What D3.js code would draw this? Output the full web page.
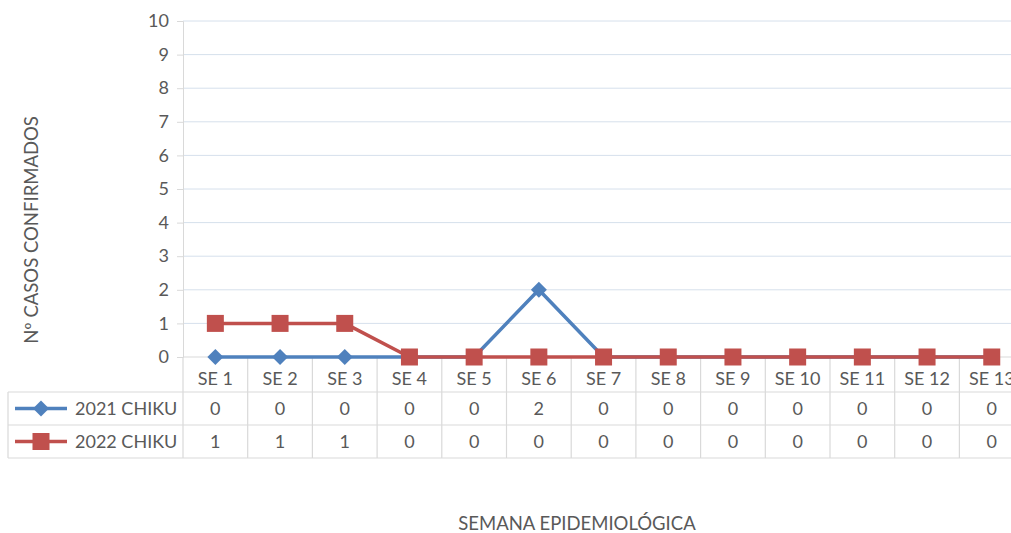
<!DOCTYPE html>
<html>
<head>
<meta charset="utf-8">
<script src="https://cdn.jsdelivr.net/npm/d3@7"></script>
<style>
  body { margin: 0; background: #fff; }
  svg text { font-family: Lato, "Open Sans", sans-serif; fill: #595959; }
</style>
</head>
<body>
<div id="chart"></div>
<script>
// data
const weeks = ["SE 1", "SE 2", "SE 3", "SE 4", "SE 5", "SE 6", "SE 7", "SE 8", "SE 9", "SE 10", "SE 11", "SE 12", "SE 13"];
const chiku2021 = [0, 0, 0, 0, 0, 2, 0, 0, 0, 0, 0, 0, 0];
const chiku2022 = [1, 1, 1, 0, 0, 0, 0, 0, 0, 0, 0, 0, 0];
const yTicks = [0, 1, 2, 3, 4, 5, 6, 7, 8, 9, 10];

const series = [
  { name: "2021 CHIKU", values: chiku2021, color: "#4F81BD", marker: "diamond" },
  { name: "2022 CHIKU", values: chiku2022, color: "#C0504D", marker: "square" }
];

const W = 1011, H = 533;
const plotLeft = 183, plotTop = 21, plotBottom = 357;
const catW = 64.7;
const rowH = 33;
const fs = "18px";

const svg = d3.select("#chart").append("svg")
  .attr("width", W).attr("height", H);

const x = d3.scaleBand()
  .domain(weeks)
  .range([plotLeft, plotLeft + catW * weeks.length])
  .padding(0);

const y = d3.scaleLinear()
  .domain([0, 10])
  .range([plotBottom, plotTop]);

// gridlines
svg.append("g")
  .selectAll("line")
  .data(yTicks.filter(d => d > 0))
  .enter().append("line")
    .attr("x1", plotLeft).attr("x2", W)
    .attr("y1", d => y(d)).attr("y2", d => y(d))
    .attr("stroke", "#D6E0EC").attr("stroke-width", 1);

// y axis
const yAxis = svg.append("g")
  .attr("transform", `translate(${plotLeft},0)`)
  .call(d3.axisLeft(y).tickValues(yTicks).tickSize(6).tickPadding(8));
yAxis.select(".domain").attr("stroke", "#D9D9D9");
yAxis.selectAll(".tick line").attr("stroke", "#D9D9D9");
yAxis.selectAll(".tick text")
  .style("font-size", fs)
  .style("font-family", "Lato, 'Open Sans', sans-serif")
  .attr("fill", "#595959");

// zero line
svg.append("line")
  .attr("x1", plotLeft).attr("x2", W)
  .attr("y1", y(0)).attr("y2", y(0))
  .attr("stroke", "#D9D9D9");

// data table
const tableBottom = plotBottom + rowH * 3 + 2;
const grid = svg.append("g").attr("stroke", "#D9D9D9").attr("stroke-width", 1.2);

// vertical dividers between categories
weeks.forEach((w, i) => {
  const xv = x(w) + x.bandwidth();
  grid.append("line")
    .attr("x1", xv).attr("x2", xv)
    .attr("y1", plotBottom).attr("y2", tableBottom);
});
grid.append("line")
  .attr("x1", plotLeft).attr("x2", plotLeft)
  .attr("y1", plotBottom).attr("y2", tableBottom);
grid.append("line")
  .attr("x1", 8).attr("x2", 8)
  .attr("y1", plotBottom + rowH + 2).attr("y2", tableBottom);

// horizontal rows
[plotBottom + rowH + 2, plotBottom + rowH * 2 + 2, tableBottom].forEach(yy => {
  grid.append("line")
    .attr("x1", 8).attr("x2", W)
    .attr("y1", yy).attr("y2", yy);
});

// category labels
svg.append("g")
  .selectAll("text")
  .data(weeks)
  .enter().append("text")
    .attr("x", d => x(d) + x.bandwidth() / 2)
    .attr("y", plotBottom + 28)
    .attr("text-anchor", "middle")
    .style("font-size", fs)
    .text(d => d);

// table values
series.forEach((s, si) => {
  const rowTop = plotBottom + rowH + 2 + si * rowH;
  svg.append("g")
    .selectAll("text")
    .data(s.values)
    .enter().append("text")
      .attr("x", (d, i) => x(weeks[i]) + x.bandwidth() / 2)
      .attr("y", rowTop + 23)
      .attr("text-anchor", "middle")
      .style("font-size", fs)
      .text(d => d);

  // legend key
  const ky = rowTop + rowH / 2;
  svg.append("line")
    .attr("x1", 15).attr("x2", 67)
    .attr("y1", ky).attr("y2", ky)
    .attr("stroke", s.color).attr("stroke-width", 3.5);
  drawMarker(svg, s.marker, 41, ky, s.color);
  svg.append("text")
    .attr("x", 75).attr("y", rowTop + 23)
    .style("font-size", fs)
    .text(s.name);
});

// lines
const line = d3.line()
  .x((d, i) => x(weeks[i]) + x.bandwidth() / 2)
  .y(d => y(d));

series.forEach(s => {
  svg.append("path")
    .datum(s.values)
    .attr("fill", "none")
    .attr("stroke", s.color)
    .attr("stroke-width", 3.5)
    .attr("stroke-linejoin", "round")
    .attr("d", line);
});

series.forEach(s => {
  s.values.forEach((v, i) => {
    drawMarker(svg, s.marker, x(weeks[i]) + x.bandwidth() / 2, y(v), s.color);
  });
});

function drawMarker(g, type, cx, cy, color) {
  if (type === "square") {
    g.append("rect")
      .attr("x", cx - 8.5).attr("y", cy - 8.5)
      .attr("width", 17).attr("height", 17)
      .attr("fill", color);
  } else {
    g.append("path")
      .attr("d", `M${cx},${cy - 8}L${cx + 8},${cy}L${cx},${cy + 8}L${cx - 8},${cy}Z`)
      .attr("fill", color);
  }
}

// axis titles
svg.append("text")
  .attr("transform", `translate(38,230) rotate(-90)`)
  .attr("text-anchor", "middle")
  .style("font-size", "18.5px")
  .text("Nº CASOS CONFIRMADOS");

svg.append("text")
  .attr("x", 577).attr("y", 530)
  .attr("text-anchor", "middle")
  .style("font-size", "18.5px")
  .text("SEMANA EPIDEMIOLÓGICA");
</script>
</body>
</html>
